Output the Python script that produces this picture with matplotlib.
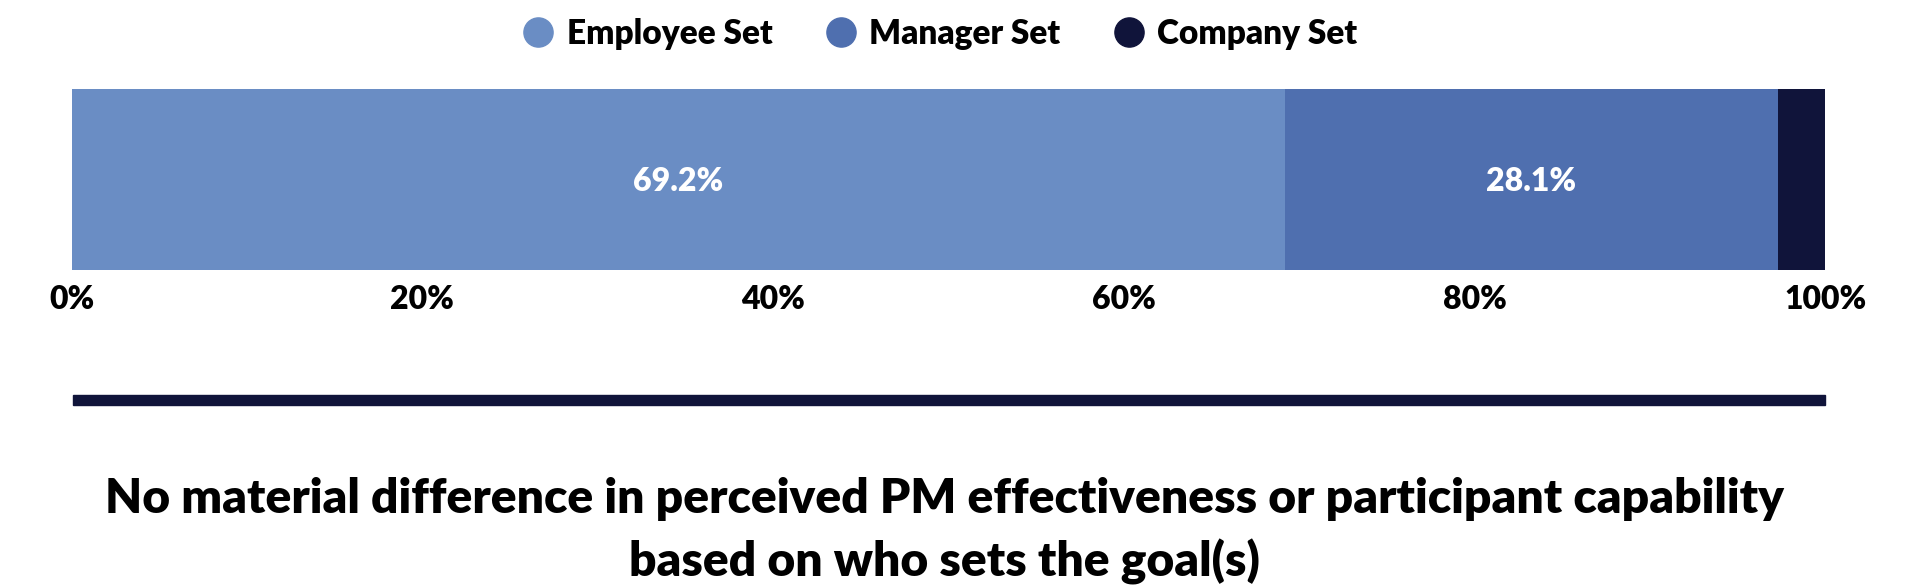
import matplotlib
matplotlib.use("Agg")
import matplotlib.pyplot as plt
from matplotlib.lines import Line2D
from matplotlib.patches import Rectangle

categories = ["Employee Set", "Manager Set", "Company Set"]
values = [69.2, 28.1, 2.7]
colors = ["#6a8dc4", "#4f6faf", "#10143a"]
tick_values = [0, 20, 40, 60, 80, 100]
tick_labels = ["0%", "20%", "40%", "60%", "80%", "100%"]
title_lines = ["No material difference in perceived PM effectiveness or participant capability",
               "based on who sets the goal(s)"]

plt.rcParams['font.family'] = ['Lato', 'DejaVu Sans']
W = "heavy"

fig = plt.figure(figsize=(19.08, 5.86), dpi=100)
ax = fig.add_axes([0.0376, 0.539, 0.919, 0.3095])

left = 0
for cat, v, c in zip(categories, values, colors):
    ax.barh(0, v, left=left, height=1.0, color=c, label=cat)
    if v > 10:
        ax.text(left + v / 2, 0, f"{v:.1f}%", ha="center", va="center_baseline",
                color="white", fontsize=23, fontweight=W)
    left += v

ax.set_xlim(0, 100)
ax.set_ylim(-0.5, 0.5)
ax.set_yticks([])
ax.set_xticks(tick_values)
ax.set_xticklabels(tick_labels, fontsize=23, fontweight=W)
ax.tick_params(axis="x", length=0, pad=11)
for s in ax.spines.values():
    s.set_visible(False)

handles = [Line2D([0], [0], marker="o", color="w", markerfacecolor=c,
                  markeredgecolor=c, markersize=21, linestyle="None") for c in colors]
leg = fig.legend(handles, categories, loc="center", bbox_to_anchor=(0.4915, 0.942),
                 ncol=3, frameon=False, handlelength=1.2, handletextpad=0.25,
                 columnspacing=1.45,
                 prop={"family": "Lato", "weight": W, "size": 24})

fig.patches.append(Rectangle((73 / 1908, 1 - 405 / 586), (1825 - 73) / 1908, 10 / 586,
                             transform=fig.transFigure, color="#10143a"))

fig.text(0.495, 0.1485, title_lines[0], ha="center", va="center",
         fontsize=34.6, fontweight=W, color="black")
fig.text(0.495, 0.041, title_lines[1], ha="center", va="center",
         fontsize=34.6, fontweight=W, color="black")

fig.savefig("out.png", dpi=100)
